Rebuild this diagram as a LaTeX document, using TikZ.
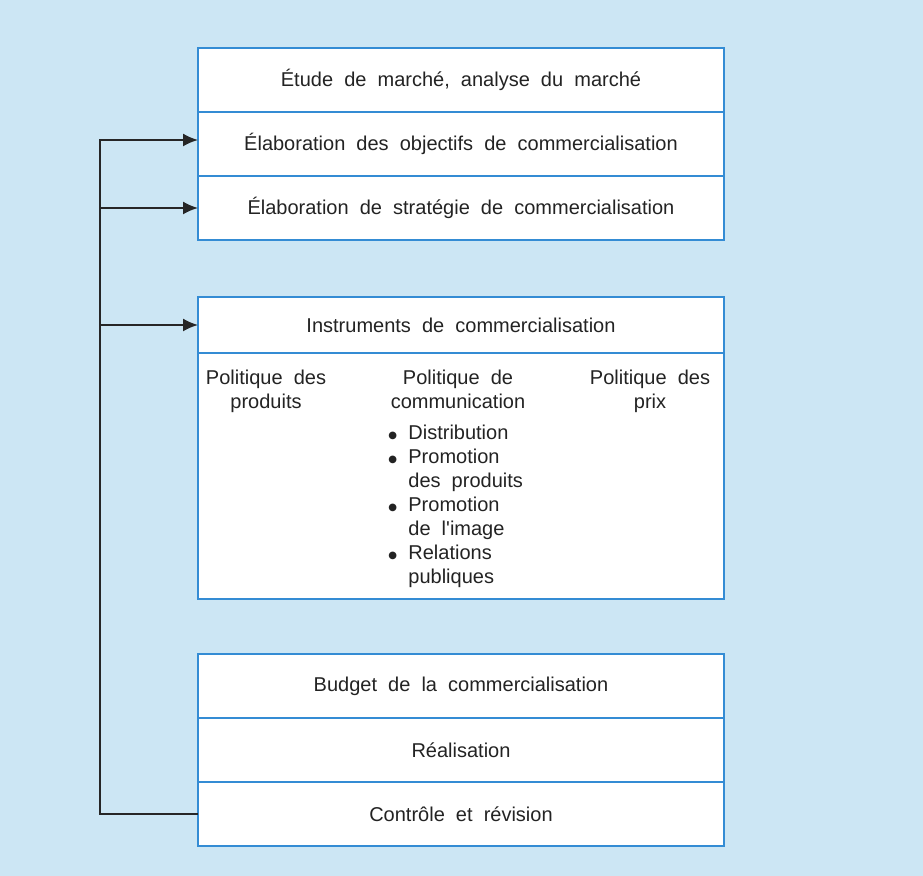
\documentclass[tikz,border=0pt]{standalone}
\usepackage{fontspec}
\setmainfont[WordSpace=2]{Liberation Sans}
\newfontfamily\symbolesfont{DejaVu Sans}
\usetikzlibrary{positioning,arrows.meta}
\definecolor{fondbleu}{RGB}{204,230,244}
\definecolor{traitbleu}{RGB}{52,140,212}
\definecolor{gristexte}{RGB}{35,35,35}
\newcommand{\puce}{\makebox[10pt][l]{\raisebox{0.9pt}{\symbolesfont\fontsize{5pt}{6pt}\selectfont ●}}}
\newcommand{\sanspuce}{\makebox[10pt][l]{}}

\begin{document}
\begin{tikzpicture}[x=0.5pt,y=-0.5pt,>={Latex[length=7.5pt,width=6.5pt]},font=\fontsize{10pt}{12pt}\selectfont,text=gristexte]

\tikzstyle{box}=[draw=traitbleu,line width=1.2pt,fill=white,minimum width=263pt,minimum height=32pt,outer sep=0pt,inner sep=0pt]
\tikzstyle{col}=[align=center,inner sep=0pt,anchor=north]
\tikzstyle{lien}=[line width=0.9pt,draw=black!85]

    \fill[fondbleu] (0,0) rectangle (923,876);

    \node[box] (etude) at (461,80) {Étude de marché, analyse du marché};
    \node[box,below=0pt of etude] (objectifs) {Élaboration des objectifs de commercialisation};
    \node[box,below=0pt of objectifs] (strategie) {Élaboration de stratégie de commercialisation};

    \node[box,minimum height=28pt] (instr) at (461,325) {Instruments de commercialisation};
    \node[box,below=0pt of instr,minimum height=123pt] (politiques) {};
    \node[col] (produits) at (266,370) {Politique des\\produits};
    \node[col] (comm) at (458,370) {Politique de\\communication};
    \node[col] (prix) at (650,370) {Politique des\\prix};
    \node[col,anchor=north west,align=left] (moyens) at (388,425)
        {\puce Distribution\\\puce Promotion\\\sanspuce des produits\\\puce Promotion\\\sanspuce de l\textquotesingle image\\\puce Relations\\\sanspuce publiques};

    \node[box] (budget) at (461,686) {Budget de la commercialisation};
    \node[box,below=0pt of budget] (realisation) {Réalisation};
    \node[box,below=0pt of realisation] (controle) {Contrôle et révision};

    \draw[lien,->] (controle.west) -- ++(-98,0) coordinate (coin) |- ([yshift=2pt]objectifs.west);
    \draw[lien,->] (coin |- strategie.west) -- (strategie.west);
    \draw[lien,->] (coin |- instr.west) -- (instr.west);

\end{tikzpicture}
\end{document}
